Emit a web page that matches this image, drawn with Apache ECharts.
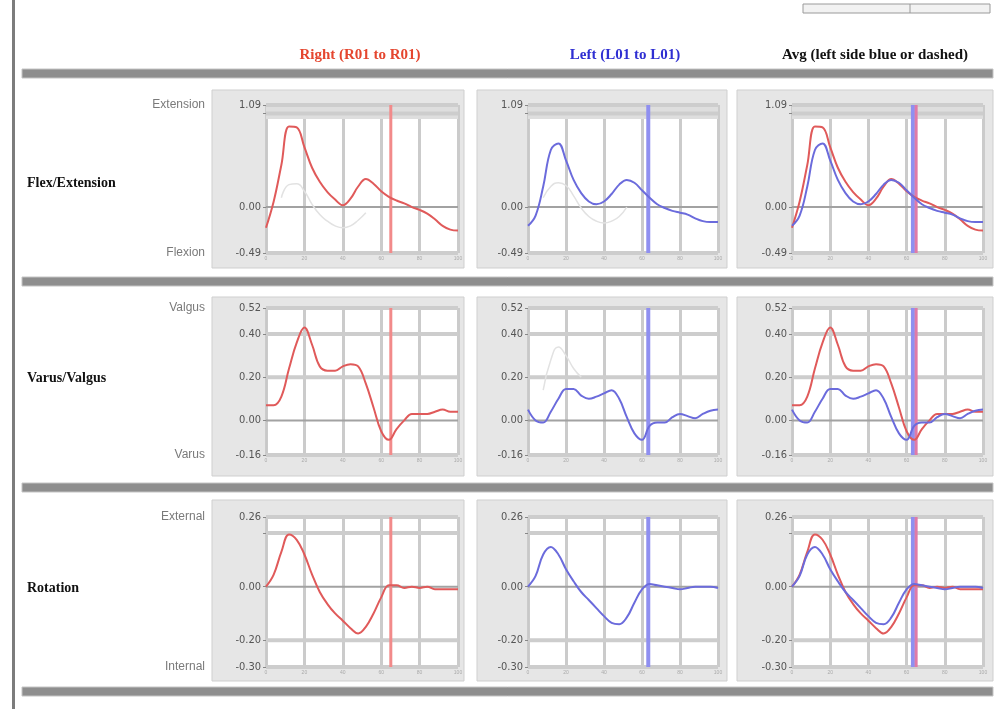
<!DOCTYPE html>
<html>
<head>
<meta charset="utf-8">
<script src="https://cdn.jsdelivr.net/npm/echarts@6/dist/echarts.min.js"></script>
<style>
html,body{margin:0;padding:0;background:#fff;}
#chart{width:1003px;height:709px;}
</style>
</head>
<body>
<div id="chart"></div>
<script>
// ---------- data ----------
const xs = [0,4,8,12,16,20,24,28,32,36,40,44,48,52,56,60,64,68,72,76,80,84,88,92,96,100];

const flexRight = [-0.22,0.06,0.45,0.86,0.85,0.64,0.42,0.27,0.16,0.08,0.02,0.09,0.22,0.30,0.25,0.17,0.11,0.07,0.04,0.00,-0.03,-0.07,-0.13,-0.20,-0.24,-0.25];
const flexLeft  = [-0.20,-0.09,0.22,0.61,0.68,0.50,0.29,0.15,0.06,0.03,0.06,0.14,0.24,0.29,0.26,0.18,0.10,0.03,-0.01,-0.04,-0.06,-0.08,-0.12,-0.15,-0.16,-0.16];
const varRight  = [0.07,0.07,0.11,0.24,0.36,0.43,0.35,0.25,0.23,0.23,0.25,0.26,0.25,0.17,0.06,-0.05,-0.09,-0.04,0.00,0.03,0.03,0.03,0.04,0.05,0.04,0.04];
const varLeft   = [0.05,0.00,-0.01,0.04,0.10,0.145,0.145,0.115,0.10,0.11,0.125,0.14,0.10,0.015,-0.06,-0.09,-0.025,-0.01,-0.01,0.015,0.03,0.02,0.01,0.03,0.045,0.05];
const rotRight  = [0.00,0.045,0.13,0.195,0.175,0.12,0.045,-0.02,-0.065,-0.10,-0.127,-0.155,-0.175,-0.15,-0.10,-0.04,0.005,0.005,-0.005,0.00,-0.005,0.00,-0.01,-0.01,-0.01,-0.01];
const rotLeft   = [0.00,0.04,0.12,0.148,0.12,0.065,0.02,-0.02,-0.05,-0.08,-0.11,-0.135,-0.14,-0.115,-0.06,-0.01,0.01,0.005,0.00,-0.005,-0.01,-0.005,0.00,0.00,0.00,-0.005];

const ghostFlexR = [null,null,0.10,0.24,0.25,0.17,0.03,-0.08,-0.15,-0.20,-0.22,-0.20,-0.14,-0.06,null,null,null,null,null,null,null,null,null,null,null,null];
const ghostFlexL = [null,null,0.10,0.22,0.26,0.23,0.12,-0.01,-0.10,-0.15,-0.17,-0.15,-0.10,0.00,null,null,null,null,null,null,null,null,null,null,null,null];
const ghostVarL  = [null,null,0.14,0.28,0.34,0.30,0.24,0.20,null,null,null,null,null,null,null,null,null,null,null,null,null,null,null,null,null,null];

const eventRight = 65.0;
const eventLeft  = 63.3;

const flexRange = [-0.49, 1.09];
const varRange  = [-0.16, 0.52];
const rotRange  = [-0.30, 0.26];

const flexGridlines = [-0.49, 0.00, 1.00, 1.09];
const varGridlines  = [-0.16, 0.00, 0.20, 0.40, 0.52];
const rotGridlines  = [-0.30, -0.20, 0.00, 0.20, 0.26];

const flexTickLabels = [-0.49, 0.00, 1.09];
const varTickLabels  = [-0.16, 0.00, 0.20, 0.40, 0.52];
const rotTickLabels  = [-0.30, -0.20, 0.00, 0.26];

const flexBand = [0.94, 1.09];

const headers = ['Right (R01 to R01)', 'Left (L01 to L01)', 'Avg (left side blue or dashed)'];
const rowNames = ['Flex/Extension', 'Varus/Valgus', 'Rotation'];
const topNames = ['Extension', 'Valgus', 'External'];
const bottomNames = ['Flexion', 'Varus', 'Internal'];

// ---------- layout ----------
const colLeft = [266, 528, 792], colWidth = [192, 190, 191];
const rowTop = [105, 308, 517], rowHeight = [148, 147, 150];
const boxX = [[212, 464], [477, 727], [737, 993]];
const boxY = [[90, 268], [297, 476], [500, 681]];
const headerX = [360, 625, 875];
const barY = [69, 277, 483, 687];

const RED = '#e05a5a', BLUE = '#6b6bdc';
const NARROW = '"Liberation Sans Narrow","DejaVu Sans Condensed","Liberation Sans",sans-serif';

const rows = [
  {range: flexRange, lines: flexGridlines, labels: flexTickLabels, band: flexBand, right: flexRight, left: flexLeft, gR: ghostFlexR, gL: ghostFlexL},
  {range: varRange,  lines: varGridlines,  labels: varTickLabels,  band: null, right: varRight, left: varLeft, gR: null, gL: ghostVarL},
  {range: rotRange,  lines: rotGridlines,  labels: rotTickLabels,  band: null, right: rotRight, left: rotLeft, gR: null, gL: null}
];

const pairs = arr => xs.map((x, i) => [x, arr[i]]);

const grids = [], xAxes = [], yAxes = [], series = [];
rows.forEach((row, r) => {
  for (let c = 0; c < 3; c++) {
    const g = grids.length;
    grids.push({left: colLeft[c], top: rowTop[r], width: colWidth[c], height: rowHeight[r],
      show: true, backgroundColor: '#ffffff', borderWidth: 0, containLabel: false});
    xAxes.push({type: 'value', gridIndex: g, min: 0, max: 100, interval: 20,
      axisLine: {show: false}, axisTick: {show: false},
      axisLabel: {show: true, fontSize: 5, color: '#aaa', margin: 3},
      splitLine: {show: true, lineStyle: {color: '#cbcbcb', width: 3}}});
    yAxes.push({type: 'value', gridIndex: g, min: row.range[0], max: row.range[1],
      axisLine: {show: true, lineStyle: {color: '#c8c8c8', width: 1}},
      axisTick: {show: true, length: 3, lineStyle: {color: '#888'}, customValues: row.lines},
      axisLabel: {show: true, customValues: row.labels, formatter: v => v.toFixed(2),
        fontSize: 11, color: '#555', fontFamily: NARROW, margin: 5},
      splitLine: {show: false}});
    row.lines.forEach((v, k) => {
      series.push({type: 'line', xAxisIndex: g, yAxisIndex: g, z: 1, silent: true, symbol: 'none',
        data: [[0, v], [100, v]],
        lineStyle: {color: v === 0 ? '#a2a2a2' : '#cdcdcd', width: v === 0 ? 2 : 4},
        markArea: (k === 0 && row.band) ? {silent: true, itemStyle: {color: '#dedede'},
          data: [[{yAxis: row.band[0]}, {yAxis: row.band[1]}]]} : undefined});
    });
    const evs = c === 0 ? [[eventRight, '#f28a8a', 3]] : c === 1 ? [[eventLeft, '#8f8ff0', 4]] : [[eventLeft, '#8f8ff0', 4], [eventRight, '#e07aa8', 3]];
    evs.forEach(e => {
      series.push({type: 'line', xAxisIndex: g, yAxisIndex: g, z: 2, silent: true, symbol: 'none',
        data: [[e[0], row.range[0]], [e[0], row.range[1]]],
        lineStyle: {color: e[1], width: e[2]}});
    });
    const gh = c === 0 ? row.gR : c === 1 ? row.gL : null;
    if (gh) series.push({type: 'line', xAxisIndex: g, yAxisIndex: g, z: 2, silent: true, symbol: 'none', smooth: true,
      data: pairs(gh), lineStyle: {color: '#e2e2e2', width: 1.5}});
    const curves = c === 0 ? [[row.right, RED]] : c === 1 ? [[row.left, BLUE]] : [[row.right, RED], [row.left, BLUE]];
    curves.forEach(cv => {
      series.push({type: 'line', xAxisIndex: g, yAxisIndex: g, z: 3, silent: true, symbol: 'none', smooth: 0.4,
        data: pairs(cv[0]), lineStyle: {color: cv[1], width: 2}});
    });
  }
});

// ---------- decorations ----------
const elements = [];
elements.push({type: 'rect', z: -10, shape: {x: 12, y: 0, width: 3, height: 709}, style: {fill: '#7c7c7c'}});
elements.push({type: 'rect', z: -10, shape: {x: 803, y: 4, width: 187, height: 9}, style: {fill: '#f2f2f2', stroke: '#9a9a9a', lineWidth: 1}});
elements.push({type: 'line', z: -9, shape: {x1: 910, y1: 4, x2: 910, y2: 13}, style: {stroke: '#9a9a9a', lineWidth: 1}});
barY.forEach(y => elements.push({type: 'rect', z: -10, shape: {x: 22, y: y, width: 971, height: 9}, style: {fill: '#8e8e8e', stroke: '#c4c4c4', lineWidth: 1}}));
for (let r = 0; r < 3; r++) for (let c = 0; c < 3; c++) {
  elements.push({type: 'rect', z: -10, shape: {x: boxX[c][0], y: boxY[r][0], width: boxX[c][1] - boxX[c][0], height: boxY[r][1] - boxY[r][0]},
    style: {fill: '#e6e6e6', stroke: '#cfcfcf', lineWidth: 1}});
}
headers.forEach((t, c) => elements.push({type: 'text', z: 5, style: {text: t, x: headerX[c], y: 55, align: 'center', verticalAlign: 'middle',
  font: 'bold 15px "Liberation Serif", serif', fill: ['#e5462f', '#2f2fd2', '#111111'][c]}}));
rowNames.forEach((t, r) => elements.push({type: 'text', z: 5, style: {text: t, x: 27, y: [183, 378, 588][r], align: 'left', verticalAlign: 'middle',
  font: 'bold 14px "Liberation Serif", serif', fill: '#111'}}));
topNames.forEach((t, r) => elements.push({type: 'text', z: 5, style: {text: t, x: 205, y: rowTop[r], align: 'right', verticalAlign: 'middle',
  font: '12px "Liberation Sans", sans-serif', fill: '#7a7a7a'}}));
bottomNames.forEach((t, r) => elements.push({type: 'text', z: 5, style: {text: t, x: 205, y: rowTop[r] + rowHeight[r], align: 'right', verticalAlign: 'middle',
  font: '12px "Liberation Sans", sans-serif', fill: '#7a7a7a'}}));

const chart = echarts.init(document.getElementById('chart'), null, {renderer: 'canvas'});
chart.setOption({
  animation: false,
  backgroundColor: '#ffffff',
  grid: grids, xAxis: xAxes, yAxis: yAxes, series: series,
  graphic: {elements: elements}
});
</script>
</body>
</html>
